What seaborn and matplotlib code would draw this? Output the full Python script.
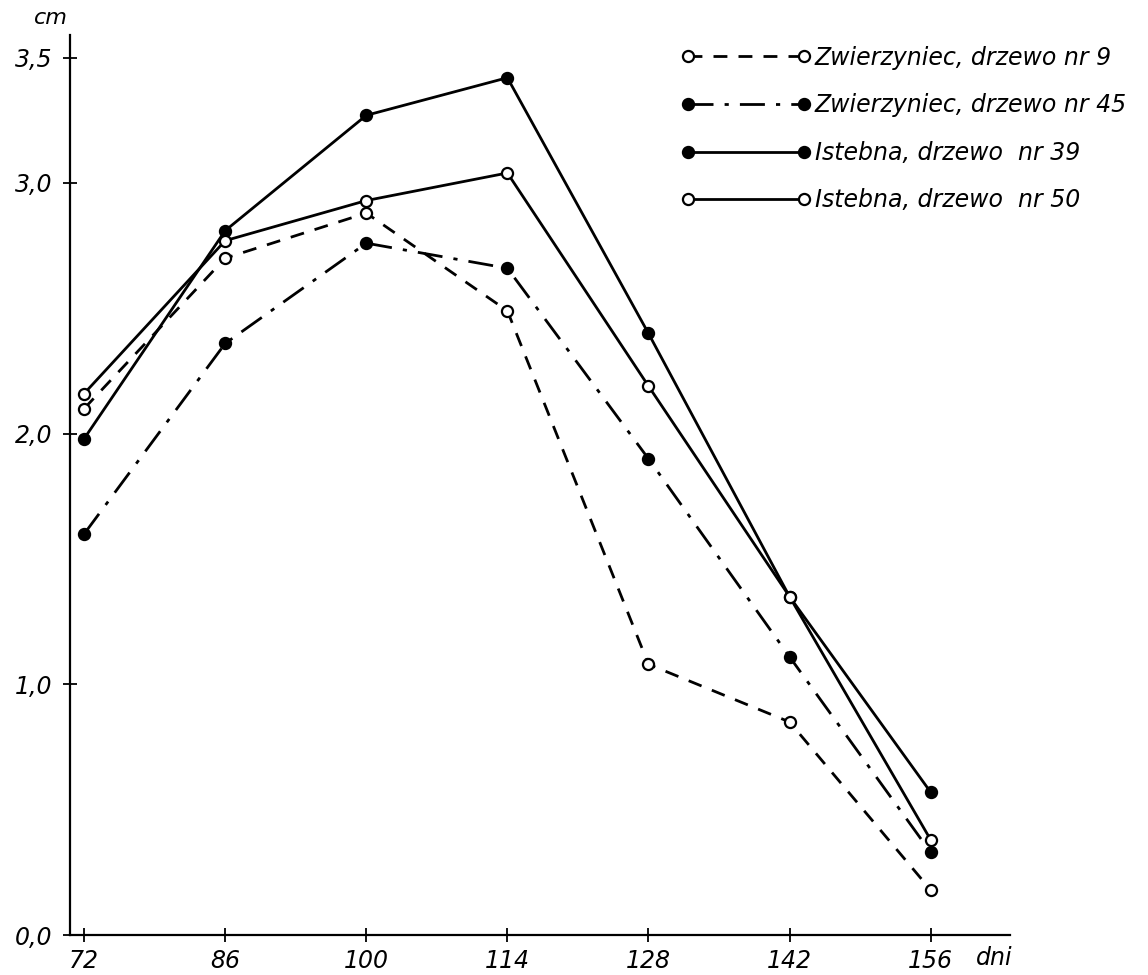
import matplotlib
matplotlib.use("Agg")
import matplotlib.pyplot as plt
import seaborn as sns
import pandas as pd
from matplotlib.ticker import FuncFormatter

days = [72, 86, 100, 114, 128, 142, 156]
zw9 = [2.10, 2.70, 2.88, 2.49, 1.08, 0.85, 0.18]
zw45 = [1.60, 2.36, 2.76, 2.66, 1.90, 1.11, 0.33]
ist39 = [1.98, 2.81, 3.27, 3.42, 2.40, 1.35, 0.57]
ist50 = [2.16, 2.77, 2.93, 3.04, 2.19, 1.35, 0.38]

names = ["Zwierzyniec, drzewo nr 9", "Zwierzyniec, drzewo nr 45",
         "Istebna, drzewo  nr 39", "Istebna, drzewo  nr 50"]
series = [zw9, zw45, ist39, ist50]
dashes = [(5, 4), (9, 4, 1.5, 4), (None, None), (None, None)]
filled = [False, True, True, False]

sns.set_theme(style="white")
plt.rcParams["font.family"] = ["DejaVu Sans"]
plt.rcParams["font.style"] = "italic"
plt.rcParams["text.color"] = "black"

fig = plt.figure(figsize=(11.48, 9.75), dpi=100)
ax = fig.add_axes([0.061, 0.041, 0.819, 0.923])

for name, vals, ds, fl in zip(names, series, dashes, filled):
    df = pd.DataFrame({"dzien": days, "cm": vals})
    sns.lineplot(data=df, x="dzien", y="cm", ax=ax, color="black",
                 linewidth=2, marker="o", markersize=8,
                 markerfacecolor="black" if fl else "white",
                 markeredgecolor="black", markeredgewidth=1.6,
                 label=name)
    l = ax.lines[-1]
    if ds[0] is not None:
        l.set_dashes(ds)

ax.set_xlim(70.6, 163.9)
ax.set_ylim(0, 3.59)
ax.set_xticks(days)
ax.set_yticks([0, 1, 2, 3, 3.5])
ax.yaxis.set_major_formatter(FuncFormatter(lambda v, p: f"{v:.1f}".replace(".", ",")))
ax.set_xlabel("")
ax.set_ylabel("")
for s in ["top", "right"]:
    ax.spines[s].set_visible(False)
for s in ["left", "bottom"]:
    ax.spines[s].set_color("black")
    ax.spines[s].set_linewidth(1.6)
ax.tick_params(axis="both", direction="inout", length=10, width=1.3,
               labelsize=17, colors="black", left=True, bottom=True)
ax.tick_params(axis="x", pad=5)
ax.tick_params(axis="y", pad=8)

fig.text(0.03, 0.975, "cm", fontsize=16, style="italic")
fig.text(0.85, 0.010, "dni", fontsize=17, style="italic")

leg = ax.legend(loc="upper right", bbox_to_anchor=(1.0, 0.975),
                bbox_transform=fig.transFigure, frameon=False,
                handlelength=5.5, handletextpad=0.15, fontsize=17,
                labelspacing=1.0, numpoints=2, labelcolor="black")

fig.savefig("out.png", dpi=100, facecolor="white")
